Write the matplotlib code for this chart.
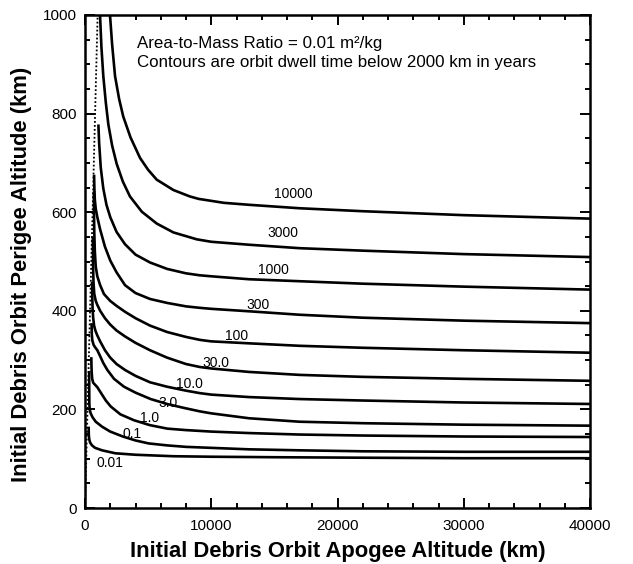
import matplotlib.pyplot as plt
from matplotlib.ticker import MultipleLocator

plt.rcParams['font.family'] = ['Liberation Sans', 'DejaVu Sans']

# contour levels (dwell time below 2000 km, years)
levels = ["10000", "3000", "1000", "300", "100", "30.0", "10.0", "3.0", "1.0", "0.1", "0.01"]

# apogee / perigee points (km)
apogee_10000 = [1980, 2150, 2380, 2700, 3030, 3600, 4360, 5000, 5680, 7000, 8300, 9000, 11000, 13000, 17000, 22000, 30000, 40000]
perigee_10000 = [1000, 940, 876, 830, 794, 752, 710, 686, 666, 645, 632, 627, 619, 615, 608, 602, 594, 587]

apogee_3000 = [1190, 1300, 1450, 1650, 1850, 2150, 2510, 3000, 3560, 4500, 5680, 7000, 8850, 10000, 13000, 17000, 22000, 30000, 40000]
perigee_3000 = [1000, 935, 876, 822, 778, 735, 698, 662, 632, 601, 577, 559, 545, 540, 534, 527, 522, 515, 509]

apogee_1000 = [1060, 1120, 1250, 1450, 1700, 2000, 2500, 3170, 4000, 5150, 6500, 8000, 9100, 10000, 13000, 17000, 22000, 30000, 40000]
perigee_1000 = [778, 740, 690, 648, 615, 590, 560, 535, 514, 498, 485, 476, 472, 470, 464, 460, 455, 449, 443]

apogee_300 = [720, 740, 780, 850, 975, 1200, 1580, 2000, 2500, 3170, 4000, 5150, 6500, 8000, 9100, 10000, 13000, 17000, 22000, 30000, 40000]
perigee_300 = [676, 650, 625, 607, 590, 565, 530, 502, 478, 452, 436, 424, 416, 409, 406, 404, 399, 392, 386, 380, 375]

apogee_100 = [700, 712, 735, 780, 850, 975, 1200, 1500, 2000, 2500, 3170, 4000, 5150, 6500, 8000, 9100, 10000, 13000, 17000, 22000, 30000, 40000]
perigee_100 = [642, 600, 560, 520, 490, 470, 452, 434, 420, 410, 398, 385, 370, 357, 347, 341, 338, 334, 329, 325, 320, 315]

apogee_30 = [620, 635, 670, 730, 850, 975, 1200, 1580, 2000, 2500, 3170, 4000, 5150, 6500, 8000, 9100, 10000, 13000, 17000, 22000, 30000, 40000]
perigee_30 = [551, 500, 460, 435, 420, 412, 400, 385, 372, 360, 348, 335, 320, 305, 292, 286, 283, 276, 270, 266, 262, 258]

apogee_10 = [560, 575, 600, 650, 720, 820, 975, 1200, 1580, 2000, 2500, 3170, 4000, 5150, 6500, 8000, 9100, 10000, 13000, 17000, 22000, 30000, 40000]
perigee_10 = [459, 430, 405, 385, 370, 360, 350, 338, 320, 305, 292, 280, 268, 255, 246, 238, 233, 230, 225, 221, 218, 214, 211]

apogee_3 = [520, 540, 580, 680, 800, 975, 1200, 1450, 1770, 2300, 3090, 4000, 5200, 6500, 7840, 9100, 10000, 13000, 17000, 22000, 30000, 40000]
perigee_3 = [375, 352, 340, 331, 326, 320, 308, 294, 280, 262, 246, 234, 221, 211, 203, 196, 192, 182, 175, 172, 169, 167]

apogee_1 = [500, 510, 530, 570, 650, 800, 975, 1300, 1650, 2035, 2800, 3880, 5150, 6520, 8000, 10000, 13000, 17000, 22000, 30000, 40000]
perigee_1 = [306, 290, 275, 262, 254, 250, 245, 232, 218, 206, 190, 178, 168, 161, 158, 155, 152, 149, 147, 145, 144]

apogee_01 = [330, 335, 345, 380, 450, 600, 850, 1350, 2000, 3000, 4000, 5040, 6500, 8000, 10000, 13000, 17000, 22000, 30000, 40000]
perigee_01 = [278, 240, 210, 199, 192, 184, 175, 165, 155, 145, 137, 131, 127, 124, 122, 119, 117, 115, 114, 114]

apogee_001 = [290, 300, 330, 400, 554, 800, 1350, 2400, 4000, 7000, 10000, 15000, 22000, 30000, 40000]
perigee_001 = [165, 150, 140, 133, 127, 122, 117, 111, 108, 105, 104, 103, 102, 101, 101]

apogees = [apogee_10000, apogee_3000, apogee_1000, apogee_300, apogee_100, apogee_30,
           apogee_10, apogee_3, apogee_1, apogee_01, apogee_001]
perigees = [perigee_10000, perigee_3000, perigee_1000, perigee_300, perigee_100, perigee_30,
            perigee_10, perigee_3, perigee_1, perigee_01, perigee_001]

# where each contour label sits (apogee, perigee)
label_pos = [(16500, 636), (15700, 558), (14900, 483), (13700, 412), (12000, 348), (10400, 294),
             (8300, 252), (6600, 213), (5100, 182), (3700, 151), (1980, 91)]

fig = plt.figure(figsize=(6.33, 5.64), dpi=100)
ax = fig.add_axes([85 / 633, 56 / 564, 505 / 633, 493 / 564])

# circular orbit line (apogee = perigee)
ax.plot([0, 1000], [0, 1000], color="k", lw=1.3, linestyle=(0, (1, 1.2)))

for xs, ys in zip(apogees, perigees):
    ax.plot(xs, ys, color="k", lw=1.9, solid_capstyle="butt", solid_joinstyle="round")

for lab, (lx, ly) in zip(levels, label_pos):
    ax.text(lx, ly, lab, fontsize=10, ha="center", va="center")

ax.set_xlim(0, 40000)
ax.set_ylim(0, 1000)
ax.xaxis.set_major_locator(MultipleLocator(10000))
ax.xaxis.set_minor_locator(MultipleLocator(2000))
ax.yaxis.set_major_locator(MultipleLocator(200))
ax.yaxis.set_minor_locator(MultipleLocator(50))
ax.tick_params(which="both", direction="in", top=True, right=True, labelsize=11, width=1.4)
ax.tick_params(axis="x", which="major", pad=8)
ax.tick_params(axis="y", which="major", pad=6)
ax.tick_params(which="major", length=7)
ax.tick_params(which="minor", length=3.5)
for sp in ax.spines.values():
    sp.set_linewidth(1.8)

ax.set_xlabel("Initial Debris Orbit Apogee Altitude (km)", fontsize=15.8, fontweight="bold")
ax.set_ylabel("Initial Debris Orbit Perigee Altitude (km)", fontsize=15.8, fontweight="bold")
ax.xaxis.set_label_coords(0.5, -0.066)
ax.yaxis.set_label_coords(-0.104, 0.473)

ax.text(0.103, 0.957, "Area-to-Mass Ratio = 0.01 m\u00b2/kg", transform=ax.transAxes, fontsize=12.2, va="top")
ax.text(0.103, 0.918, "Contours are orbit dwell time below 2000 km in years", transform=ax.transAxes,
        fontsize=12.2, va="top")

fig.savefig("out.png", dpi=100)
